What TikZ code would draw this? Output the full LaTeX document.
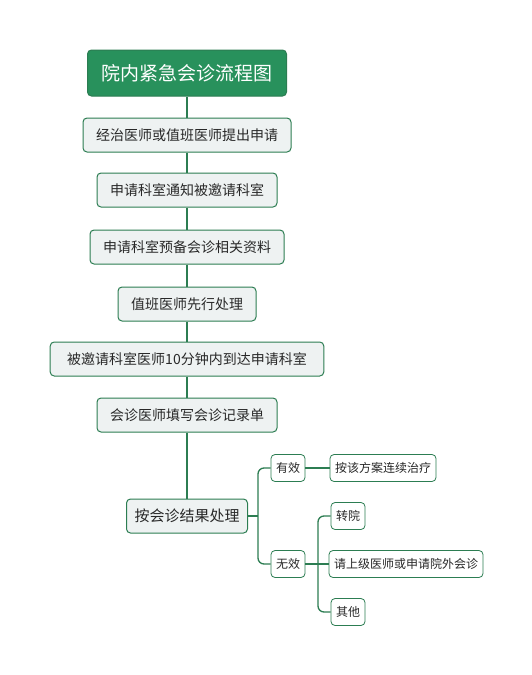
\documentclass[tikz,border=0pt]{standalone}
\usepackage{fontspec}
\setmainfont{Noto Sans CJK SC}
\usepackage{tikz}
\usetikzlibrary{calc}
\definecolor{leaf}{RGB}{40, 145, 92}
\definecolor{edge}{RGB}{44, 125, 82}
\definecolor{pale}{RGB}{238, 242, 242}
\definecolor{ink}{RGB}{40, 40, 40}

\begin{document}
\begin{tikzpicture}[x=1pt, y=-1pt,
    title/.style={draw=edge, fill=leaf, text=white, rounded corners=4, line width=1pt,
      minimum height=46, inner xsep=14, font=\fontsize{19}{22}\selectfont},
    stepbox/.style={draw=edge, fill=pale, text=ink, rounded corners=4, line width=1pt,
      minimum height=34, inner xsep=13, font=\fontsize{14}{16}\selectfont},
    leafbox/.style={draw=edge, fill=white, text=ink, rounded corners=4, line width=0.8pt,
      minimum height=27, inner xsep=5, font=\fontsize{12}{14}\selectfont},
    link/.style={edge, line width=2pt},
    twig/.style={edge, line width=1.3pt, rounded corners=6}]
  \useasboundingbox (0, 0) rectangle (531, 675);

  \node[title] (top) at (187, 73) {院内紧急会诊流程图};
  \node[stepbox] (s1) at (187, 135) {经治医师或值班医师提出申请};
  \node[stepbox] (s2) at (187, 190) {申请科室通知被邀请科室};
  \node[stepbox] (s3) at (187, 247) {申请科室预备会诊相关资料};
  \node[stepbox] (s4) at (187, 304) {值班医师先行处理};
  \node[stepbox, inner xsep=17] (s5) at (187, 359) {被邀请科室医师10分钟内到达申请科室};
  \node[stepbox] (s6) at (187, 415) {会诊医师填写会诊记录单};
  \node[stepbox, font=\fontsize{15}{17}\selectfont, inner xsep=8] (s7) at (187, 516) {按会诊结果处理};

  \node[leafbox] (yes) at (288, 468) {有效};
  \node[leafbox] (keep) at (383, 468) {按该方案连续治疗};
  \node[leafbox] (no) at (288, 564) {无效};
  \node[leafbox] (move) at (348, 516) {转院};
  \node[leafbox] (ask) at (406, 564) {请上级医师或申请院外会诊};
  \node[leafbox] (other) at (348, 612) {其他};

  % main trunk
  \foreach \a/\b in {top/s1, s1/s2, s2/s3, s3/s4, s4/s5, s5/s6, s6/s7} {
    \draw[link] (\a.south) -- (\b.north);
  }

  % result branches
  \coordinate (forkA) at (258, 516);
  \coordinate (forkB) at (318, 564);
  \draw[twig] (s7.east) -- (forkA);
  \draw[twig] (yes.west) -| (forkA) |- (no.west);
  \draw[twig] (yes.east) -- (keep.west);
  \draw[twig] (no.east) -- (ask.west);
  \draw[twig] (move.west) -| (forkB) |- (other.west);
\end{tikzpicture}
\end{document}
